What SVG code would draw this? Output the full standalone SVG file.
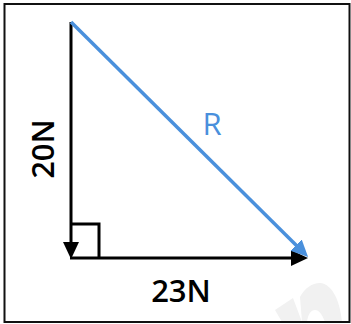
<svg xmlns="http://www.w3.org/2000/svg" width="351" height="324" viewBox="0 0 351 324">
<style>
  .edge{fill:none;stroke:#000;stroke-width:3}
  .blue{fill:none;stroke:#4a90dc;stroke-width:3.5}
  .lbl{font-family:"Open Sans","Liberation Sans",sans-serif;font-size:31px;text-anchor:middle}
</style>
<defs>
  <marker id="ahBlack" markerUnits="userSpaceOnUse" markerWidth="18" markerHeight="18" refX="7" refY="8" orient="auto">
    <path d="M0,0 L17,8 L0,16 z" fill="#000"/>
  </marker>
  <marker id="ahBlue" markerUnits="userSpaceOnUse" markerWidth="18" markerHeight="18" refX="7" refY="8" orient="auto">
    <path d="M0,0 L17,8 L0,16 z" fill="#4a90dc"/>
  </marker>
</defs>
<rect x="0" y="0" width="351" height="324" fill="#fff"/>
<path d="M275,310 L293,298 L302,322 L282,322 Z M300,297 C305,288 312,283 320,283 C332,284 340,300 342,322 L325,322 C322,314 319,310 315,310 C311,310 308,314 307,322 L302,322 Z" fill="#f1f1f1"/>
<rect x="4.5" y="4" width="345" height="318" fill="none" stroke="#111" stroke-width="2"/>
<g id="connectors">
  <line id="f20" class="edge" x1="71" y1="22" x2="71" y2="249" marker-end="url(#ahBlack)"/>
  <line id="f23" class="edge" x1="70" y1="258" x2="298" y2="258" marker-end="url(#ahBlack)"/>
  <line id="fR" class="blue" x1="71" y1="22" x2="301" y2="250" marker-end="url(#ahBlue)"/>
  <polyline id="rightAngle" class="edge" points="71,224 99,224 99,258"/>
</g>
<g id="label-20N">
  <text class="lbl" font-weight="600" transform="translate(54,149) rotate(-90)">20N</text>
</g>
<g id="label-23N">
  <text class="lbl" font-weight="600" x="181" y="302">23N</text>
</g>
<g id="label-R">
  <text class="lbl" x="212" y="135" fill="#4a90dc" font-size="33">R</text>
</g>
</svg>
